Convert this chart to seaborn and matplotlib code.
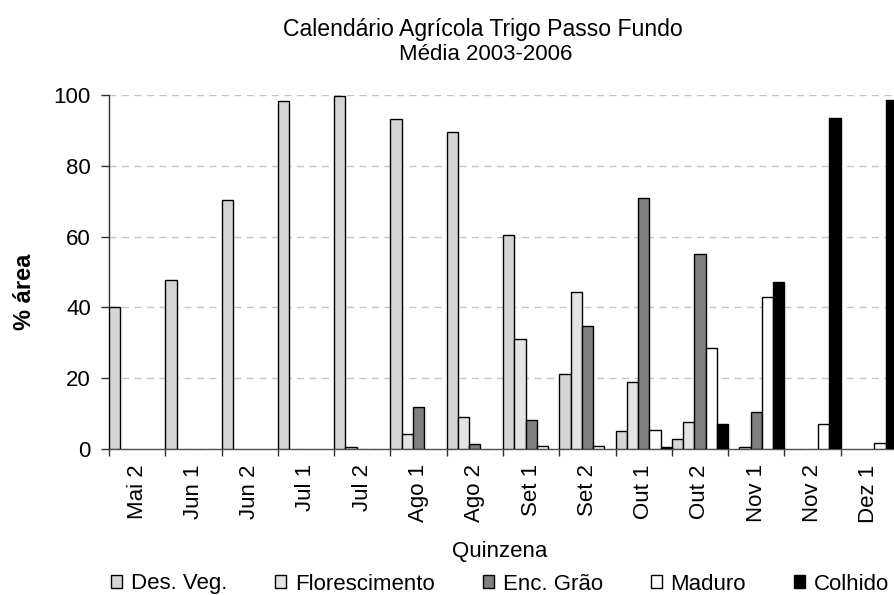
import numpy as np
import pandas as pd
import matplotlib
matplotlib.use("Agg")
import matplotlib.pyplot as plt
from matplotlib.patches import Patch
import seaborn as sns

# Fortnights of the wheat season and share of area (%) in each crop stage
quinzenas = ["Mai 2", "Jun 1", "Jun 2", "Jul 1", "Jul 2", "Ago 1", "Ago 2",
             "Set 1", "Set 2", "Out 1", "Out 2", "Nov 1", "Nov 2", "Dez 1"]
estagios = ["Des. Veg.", "Florescimento", "Enc. Grão", "Maduro", "Colhido"]

des_veg = [40.2, 47.6, 70.3, 98.3, 99.6, 93.1, 89.5, 60.4, 21.1, 5.0, 2.8, 0, 0, 0]
florescimento = [0, 0, 0, 0, 0.5, 4.1, 9.1, 31.2, 44.3, 18.8, 7.5, 0.5, 0, 0]
enc_grao = [0, 0, 0, 0, 0, 12.0, 1.5, 8.2, 34.7, 70.9, 55.2, 10.4, 0, 0]
maduro = [0, 0, 0, 0, 0, 0, 0, 0.8, 0.8, 5.3, 28.5, 42.8, 7.1, 1.8]
colhido = [0, 0, 0, 0, 0, 0, 0, 0, 0, 0.7, 7.1, 47.1, 93.4, 98.6]

cores = ["#d5d5d5", "#e4e4e4", "#808080", "#ffffff", "#000000"]

series = [des_veg, florescimento, enc_grao, maduro, colhido]
df = pd.concat(
    [pd.DataFrame({"Quinzena": quinzenas, "Area": vals, "Estagio": nome})
     for nome, vals in zip(estagios, series)],
    ignore_index=True,
)

sns.set_style("white")
plt.rcParams["font.family"] = ["Liberation Sans", "DejaVu Sans"]
plt.rcParams["text.color"] = "black"
plt.rcParams["xtick.labelcolor"] = "black"
plt.rcParams["ytick.labelcolor"] = "black"

W, H = 895, 595
fig = plt.figure(figsize=(W / 100, H / 100), dpi=100)
ax_left, ax_right, ax_top, ax_bottom = 109, 897, 95, 449
ax = fig.add_axes([ax_left / W, 1 - ax_bottom / H,
                   (ax_right - ax_left) / W, (ax_bottom - ax_top) / H])

sns.barplot(data=df, x="Quinzena", y="Area", hue="Estagio",
            order=quinzenas, hue_order=estagios, palette=cores,
            width=1.0, gap=0, edgecolor="black", linewidth=1.0,
            errorbar=None, legend=False, ax=ax, zorder=3)

# empty stages are not drawn at all
for p in ax.patches:
    if p.get_height() == 0:
        p.set_visible(False)

ax.set_xlim(-0.5, len(quinzenas) - 0.5)
ax.set_ylim(0, 100)
ax.set_yticks(np.arange(0, 101, 20))
ax.yaxis.grid(True, linestyle=(0, (5, 4)), color="#c4c4c4", linewidth=1.0)
ax.xaxis.grid(False)
ax.set_axisbelow(True)

ax.set_xticks(range(len(quinzenas)))
ax.set_xticklabels(quinzenas, rotation=90, fontsize=16, color="black")
ax.set_xticks(np.arange(-0.5, len(quinzenas), 1), minor=True)
ax.tick_params(axis="x", which="major", length=0, pad=11, labelcolor="black")
ax.tick_params(axis="x", which="minor", length=5, width=1, color="#303030",
               direction="out", bottom=True)
ax.tick_params(axis="y", length=6, width=1, color="#303030", pad=7,
               labelsize=16, labelcolor="black", direction="out", left=True)
ax.set_xlabel("")
ax.set_ylabel("")

for side in ["top", "right"]:
    ax.spines[side].set_visible(False)
ax.spines["left"].set_color("#303030")
ax.spines["bottom"].set_color("#505050")
ax.spines["left"].set_linewidth(1.0)
ax.spines["bottom"].set_linewidth(1.0)

fig.text(483 / W, 1 - 36 / H, "Calendário Agrícola Trigo Passo Fundo",
         ha="center", va="baseline", fontsize=16.6, color="black")
fig.text(486 / W, 1 - 60 / H, "Média 2003-2006",
         ha="center", va="baseline", fontsize=16, color="black")
fig.text(500 / W, 1 - 557 / H, "Quinzena", ha="center", va="baseline",
         fontsize=16, color="black")
fig.text(25 / W, 1 - 292 / H, "% área", rotation=90, ha="center",
         va="center", fontsize=17, fontweight="bold", color="black")

handles = [Patch(facecolor=c, edgecolor="black", linewidth=1.0) for c in cores]
leg = fig.legend(handles, estagios, loc="center",
                 bbox_to_anchor=(500 / W, 1 - 584 / H), ncol=5, frameon=False,
                 fontsize=16, handlelength=0.5, handleheight=0.5,
                 handletextpad=0.4, columnspacing=2.15, borderpad=0,
                 borderaxespad=0)
for t in leg.get_texts():
    t.set_color("black")

fig.savefig("out.png", dpi=100)
